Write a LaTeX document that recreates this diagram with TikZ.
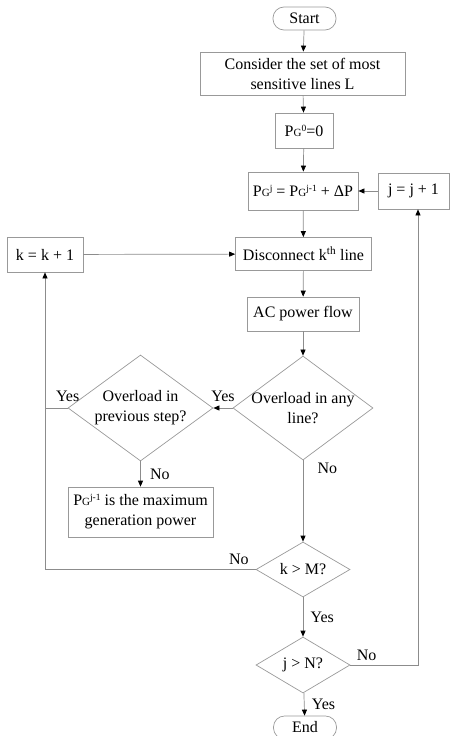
\documentclass[tikz,border=0pt]{standalone}
\usepackage{fontspec}
\setmainfont{Liberation Serif}
\usetikzlibrary{arrows.meta}
\usetikzlibrary{shapes.geometric}
\usetikzlibrary{positioning}
\tikzset{>={Triangle[length=6pt,width=5pt,color=black]}}
\tikzset{
  box/.style={rectangle,draw=black!40,line width=0.7pt,align=center,inner sep=2pt},
  term/.style={rectangle,rounded corners=11pt,draw=black!40,line width=0.7pt,minimum width=63,minimum height=23},
  decision/.style={diamond,draw=black!40,line width=0.7pt,align=center,aspect=1.35,inner sep=-3pt},
  flow/.style={draw=black!45,line width=0.7pt}
}
\newcommand{\pgen}[1]{P{\fontsize{11}{11}\selectfont G\raisebox{5pt}{\fontsize{9.5}{9.5}\selectfont #1}}}

\begin{document}
\begin{tikzpicture}[x=1pt,y=-1pt,every node/.style={font=\fontsize{16}{20}\selectfont}]
    \useasboundingbox (0,0) rectangle (451,736);
    \node at (304.5,18.5) [term] (start) {Start};
    \node at (302.5,73.5) [box,minimum width=205,minimum height=43] (consider) {Consider the set of most\\sensitive lines L};
    \node at (304,130.5) [box,minimum width=58,minimum height=35] (pg0) {\pgen{0}=0};
    \node at (303,191) [box,minimum width=110,minimum height=38] (pgj) {\pgen{j} = \pgen{j-1} + ΔP};
    \node at (413.5,191) [box,minimum width=71,minimum height=36] (jinc) {j = j + 1};
    \node at (303.5,254) [box,minimum width=136,minimum height=33] (disc) {Disconnect k\textsuperscript{th} line};
    \node at (45,254.5) [box,minimum width=76,minimum height=35] (kinc) {k = k + 1};
    \node at (303,314) [box,minimum width=112,minimum height=34] (acpf) {AC power flow};
    \node at (303,408) [decision,minimum width=140,minimum height=104] (anyl) {Overload in any\\line?};
    \node at (140.5,408) [decision,minimum width=145,minimum height=106] (prev) {Overload in\\previous step?};
    \node at (140.5,512) [box,minimum width=145,minimum height=50] (maxp) {\pgen{j-1} is the maximum\\generation power};
    \node at (303,569.5) [decision,minimum width=94,minimum height=55] (kgtm) {k > M?};
    \node at (303,665) [decision,minimum width=94,minimum height=56] (jgtn) {j > N?};
    \node at (305,727.5) [term] (end) {End};
    \draw [flow,->] (start) -- (consider);
    \draw [flow,->] (consider) -- (pg0);
    \draw [flow,->] (pg0) -- (pgj);
    \draw [flow,->] (pgj) -- (disc);
    \draw [flow,->] (disc) -- (acpf);
    \draw [flow,->] (acpf) -- (anyl);
    \draw [flow,->] (jinc) -- (pgj);
    \draw [flow,->] (kinc) -- (disc);
    \draw [flow,->] (anyl) -- node[above=3pt] {Yes} (prev);
    \draw [flow,->] (prev) -- node[right=6pt] {No} (maxp);
    \draw [flow,->] (anyl) -- node[pos=0.1,right=11pt] {No} (kgtm);
    \draw [flow] (prev.west) -- node[pos=0,above=3pt] {Yes} (kinc.south |- prev.west);
    \draw [flow,->] (kgtm.west) -| node[pos=0.04,above=1pt] {No} (kinc.south);
    \draw [flow,->] (kgtm) -- node[right=4pt] {Yes} (jgtn);
    \draw [flow,->] (jgtn.east) -| node[pos=0.12,above=1pt] {No} ([xshift=4.5pt]jinc.south);
    \draw [flow,->] (jgtn) -- node[right=4pt] {Yes} (end);
\end{tikzpicture}
\end{document}
